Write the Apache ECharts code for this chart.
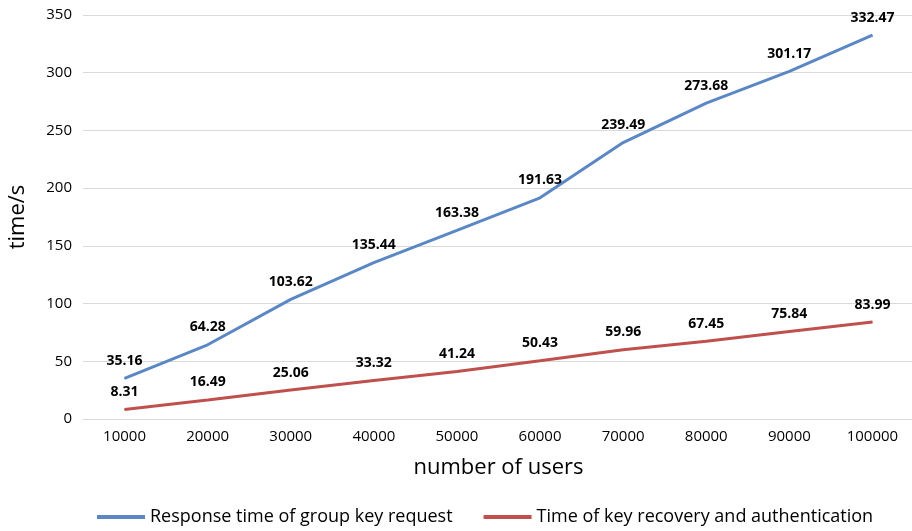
<!DOCTYPE html>
<html><head><meta charset="utf-8">
<script src="https://cdn.jsdelivr.net/npm/echarts@6/dist/echarts.min.js"></script>
<style>html,body{margin:0;padding:0;background:#fff}#c{width:912px;height:531px}</style>
</head><body><div id="c"></div>
<script>
const categories = ['10000','20000','30000','40000','50000','60000','70000','80000','90000','100000'];
const responseTime = [35.16,64.28,103.62,135.44,163.38,191.63,239.49,273.68,301.17,332.47];
const recoveryTime = [8.31,16.49,25.06,33.32,41.24,50.43,59.96,67.45,75.84,83.99];
const seriesNames = ['Response time of group key request','Time of key recovery and authentication'];
const font = 'Open Sans';
const chart = echarts.init(document.getElementById('c'));
const lbl = {show:true, position:'top', distance:10, fontFamily:font, fontWeight:'bold', fontSize:14, color:'#000'};
chart.setOption({
  animation:false,
  grid:{left:83, right:-2, top:15, bottom:112, outerBoundsMode:'none', containLabel:false},
  legend:{bottom:0, left:92, itemWidth:48, itemHeight:4, itemGap:31,
    textStyle:{fontFamily:font, fontSize:18, color:'#000'},
    data:seriesNames.map(n=>({name:n, icon:'rect'}))},
  xAxis:{type:'category', data:categories, boundaryGap:true,
    name:'number of users', nameLocation:'middle', nameGap:38,
    nameTextStyle:{fontFamily:font, fontSize:22, color:'#000'},
    axisLine:{lineStyle:{color:'#d9d9d9'}}, axisTick:{show:false},
    axisLabel:{fontFamily:font, fontSize:15, color:'#000', margin:10}},
  yAxis:{type:'value', min:0, max:350, interval:50,
    name:'time/s', nameLocation:'middle', nameGap:54, nameRotate:90,
    nameTextStyle:{fontFamily:font, fontSize:22, color:'#000'},
    axisLine:{show:false}, axisTick:{show:false},
    splitLine:{lineStyle:{color:'#d9d9d9'}},
    axisLabel:{fontFamily:font, fontSize:15, color:'#000', margin:11}},
  series:[
    {name:seriesNames[0], type:'line', data:responseTime, symbol:'circle', symbolSize:1, showSymbol:true,
     lineStyle:{color:'#5B87C5', width:3}, itemStyle:{color:'#5B87C5'}, label:lbl},
    {name:seriesNames[1], type:'line', data:recoveryTime, symbol:'circle', symbolSize:1, showSymbol:true,
     lineStyle:{color:'#C0504D', width:3}, itemStyle:{color:'#C0504D'}, label:lbl}
  ]
});
</script></body></html>
